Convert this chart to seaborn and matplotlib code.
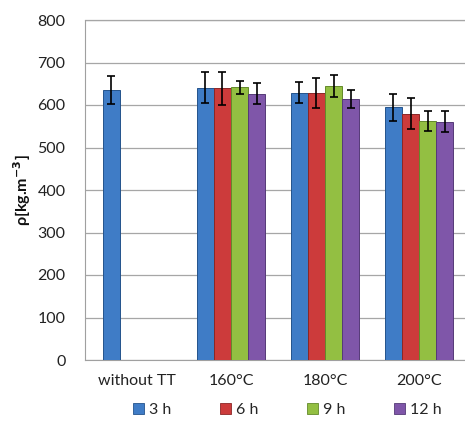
import matplotlib
matplotlib.use("Agg")
import matplotlib.pyplot as plt
import seaborn as sns
import pandas as pd
from matplotlib.patches import Patch

categories = ["without TT", "160°C", "180°C", "200°C"]
series = ["3 h", "6 h", "9 h", "12 h"]
# values per series, aligned with categories (None = no bar)
values = {
    "3 h":  [635, 641, 629, 595],
    "6 h":  [None, 639, 629, 580],
    "9 h":  [None, 642, 645, 563],
    "12 h": [None, 627, 614, 561],
}
errors = {
    "3 h":  [33, 36, 25, 32],
    "6 h":  [None, 39, 35, 36],
    "9 h":  [None, 15, 25, 24],
    "12 h": [None, 25, 22, 25],
}
colors = ["#3F7CC6", "#CC3B3B", "#93BF42", "#7F56A9"]
edges = ["#24538C", "#8C2626", "#638A2A", "#553A78"]

rows = []
for s in series:
    for c, v, e in zip(categories, values[s], errors[s]):
        if v is not None:
            rows.append({"cat": c, "series": s, "val": v, "err": e})
df = pd.DataFrame(rows)

sns.set_style("white")
plt.rcParams["font.family"] = ["Lato", "DejaVu Sans"]

fig = plt.figure(figsize=(4.65, 4.29), dpi=100)
ax = fig.add_axes([85/465, 1-360/429, 386/465, 340/429])

sns.barplot(data=df, x="cat", y="val", hue="series", order=categories,
            hue_order=series, palette=colors, width=0.73, errorbar=None,
            saturation=1, ax=ax, legend=False, zorder=3)

for si, (s, cont) in enumerate(zip(series, ax.containers)):
    sub = df[df.series == s].set_index("cat")
    for bar in cont:
        if bar.get_height() == 0 or pd.isna(bar.get_height()):
            continue
        bar.set_edgecolor(edges[si])
        bar.set_linewidth(0.7)
        xc = bar.get_x() + bar.get_width() / 2
        cat = categories[int(round(xc))]
        ax.errorbar(xc, sub.loc[cat, "val"], yerr=sub.loc[cat, "err"],
                    fmt="none", ecolor="black", elinewidth=1.2,
                    capsize=3, capthick=1.2, zorder=4)

ax.set_ylim(0, 800)
ax.set_yticks(range(0, 801, 100))
ax.yaxis.grid(True, color="#A6A6A6", linewidth=0.9, zorder=0)
ax.axhline(800, color="#A6A6A6", linewidth=0.9, clip_on=False, zorder=0)
ax.set_axisbelow(True)
for sp in ["top", "right"]:
    ax.spines[sp].set_visible(False)
ax.spines["left"].set_color("#A0A0A0")
ax.spines["bottom"].set_color("#A0A0A0")
ax.tick_params(axis="both", length=0, labelsize=11.5, colors="#222222")
ax.tick_params(axis="y", pad=14)
ax.tick_params(axis="x", pad=10)
ax.set_xlabel("")
ax.set_ylabel(r"ρ[kg.m$^{\mathbf{-3}}$]", fontsize=11.5, fontweight="bold",
              color="#111111", labelpad=3)

handles = [Patch(facecolor=c, edgecolor=e, linewidth=0.6) for c, e in zip(colors, edges)]
fig.legend(handles, series, loc="center", bbox_to_anchor=(287/465, 1-410/429),
           ncol=4, frameon=False, fontsize=11.5, handlelength=0.7,
           handleheight=0.7, handletextpad=0.3, columnspacing=3.05)

fig.savefig("out.png", dpi=100)
